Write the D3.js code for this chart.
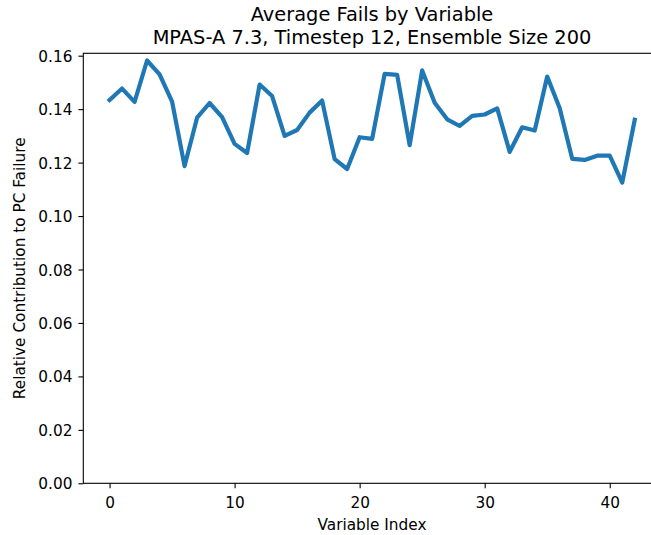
<!DOCTYPE html>
<html><head><meta charset="utf-8">
<script src="https://cdn.jsdelivr.net/npm/d3@7"></script>
<style>body{margin:0;background:#fff}svg{display:block;font-family:"DejaVu Sans",sans-serif}</style>
</head><body><svg id="c" width="651" height="535"></svg>
<script>
const titleLines = ["Average Fails by Variable", "MPAS-A 7.3, Timestep 12, Ensemble Size 200"];
const xLabel = "Variable Index";
const yLabel = "Relative Contribution to PC Failure";
const xTicks = [0, 10, 20, 30, 40];
const yTicks = [0, 0.02, 0.04, 0.06, 0.08, 0.10, 0.12, 0.14, 0.16];
const values = [0.1434, 0.1477, 0.1427, 0.1582, 0.1530, 0.1428, 0.1187, 0.1368, 0.1423, 0.1370,
  0.1270, 0.1236, 0.1492, 0.1449, 0.1300, 0.1322, 0.1387, 0.1432, 0.1213, 0.1176,
  0.1295, 0.1289, 0.1532, 0.1528, 0.1265, 0.1545, 0.1424, 0.1362, 0.1337, 0.1375,
  0.1380, 0.1403, 0.1240, 0.1332, 0.1320, 0.1522, 0.1403, 0.1214, 0.1210, 0.1226,
  0.1226, 0.1125, 0.1360];

const svg = d3.select("#c");
const L = 83.3, R = 661, T = 53.3, B = 483.3;
const FS = 15.3;
const x = d3.scaleLinear().domain([-2.1, 44.1]).range([L, R]);
const y = d3.scaleLinear().domain([0, 0.16]).range([B, 55.7]);

const line = d3.line().x((d, i) => x(i)).y(d => y(d));
svg.append("path").datum(values).attr("d", line)
  .attr("fill", "none").attr("stroke", "#1f77b4").attr("stroke-width", 4.2)
  .attr("stroke-linejoin", "round").attr("stroke-linecap", "square");

const xa = svg.append("g").attr("transform", `translate(0,${B})`)
  .call(d3.axisBottom(x).tickValues(xTicks).tickFormat(d3.format("d")).tickSize(4.9).tickPadding(9));
const ya = svg.append("g").attr("transform", `translate(${L},0)`)
  .call(d3.axisLeft(y).tickValues(yTicks).tickFormat(d3.format(".2f")).tickSize(4.9).tickPadding(6));
[xa, ya].forEach(a => {
  a.select(".domain").remove();
  a.selectAll("line").attr("stroke", "#000").attr("stroke-width", 1.1);
  a.selectAll("text").attr("font-size", FS).attr("fill", "#000").attr("font-family", "DejaVu Sans");
});
ya.selectAll("text").attr("dy", "0.36em");

svg.append("rect").attr("x", L).attr("y", T).attr("width", R - L).attr("height", B - T)
  .attr("fill", "none").attr("stroke", "#000").attr("stroke-width", 1.1);

svg.append("text").attr("x", 372).attr("y", 20.7).attr("text-anchor", "middle")
  .attr("font-size", 19.4).text(titleLines[0]);
svg.append("text").attr("x", 372).attr("y", 44.3).attr("text-anchor", "middle")
  .attr("font-size", 19.4).text(titleLines[1]);
svg.append("text").attr("x", 372).attr("y", 530).attr("text-anchor", "middle")
  .attr("font-size", FS).text(xLabel);
svg.append("text").attr("transform", `translate(25,${(T + B) / 2}) rotate(-90)`).attr("text-anchor", "middle")
  .attr("font-size", FS).text(yLabel);
</script></body></html>
